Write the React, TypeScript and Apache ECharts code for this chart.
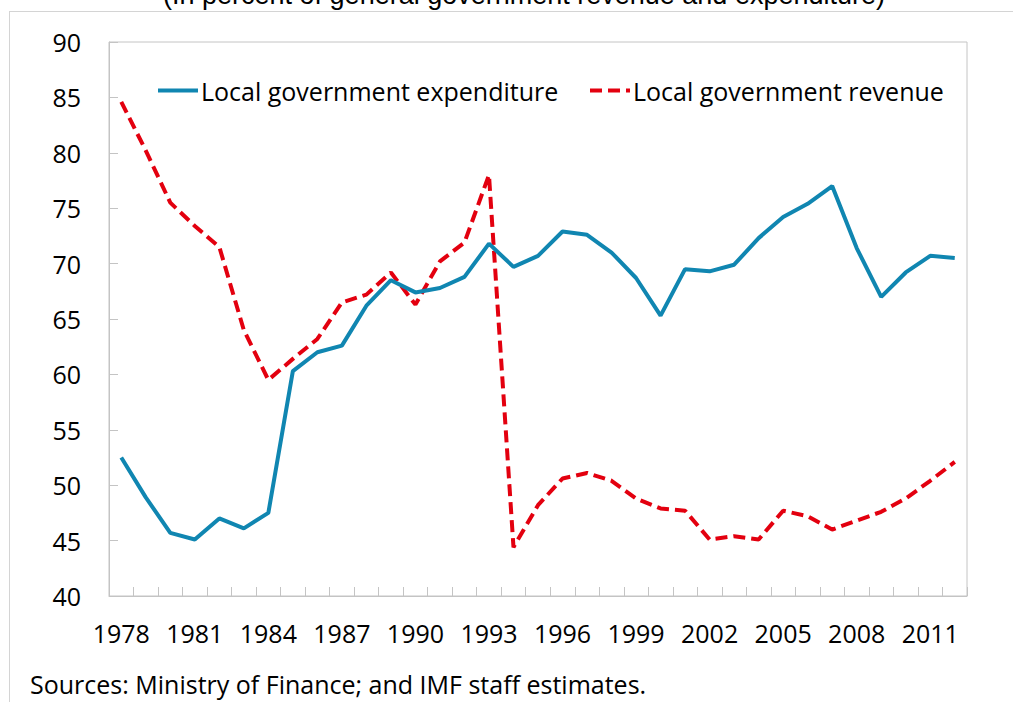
import React, { useEffect, useRef } from "react";
import * as echarts from "echarts";

const years = [
  "1978", "1979", "1980", "1981", "1982", "1983", "1984", "1985", "1986", "1987",
  "1988", "1989", "1990", "1991", "1992", "1993", "1994", "1995", "1996", "1997",
  "1998", "1999", "2000", "2001", "2002", "2003", "2004", "2005", "2006", "2007",
  "2008", "2009", "2010", "2011", "2012",
];

const expenditure = [
  52.5, 48.9, 45.7, 45.1, 47.0, 46.1, 47.5, 60.3, 62.0, 62.6,
  66.2, 68.5, 67.4, 67.8, 68.8, 71.8, 69.7, 70.7, 72.9, 72.6,
  71.0, 68.7, 65.3, 69.5, 69.3, 69.9, 72.3, 74.2, 75.4, 77.0,
  71.4, 67.0, 69.2, 70.7, 70.5,
];

const revenue = [
  84.6, 80.2, 75.5, 73.4, 71.5, 64.0, 59.5, 61.4, 63.2, 66.5,
  67.2, 69.2, 66.3, 70.2, 71.9, 78.0, 44.4, 48.2, 50.6, 51.1,
  50.4, 48.8, 47.9, 47.7, 45.1, 45.4, 45.1, 47.7, 47.2, 46.0,
  46.8, 47.6, 48.8, 50.4, 52.1,
];

const seriesNames = ["Local government expenditure", "Local government revenue"];
const titleText = "(In percent of general government revenue and expenditure)";
const sourceText = "Sources: Ministry of Finance; and IMF staff estimates.";

const FONT = "'Open Sans', 'Noto Sans', sans-serif";
const BLUE = "#1086b1";
const RED = "#e3000f";
const GRAY = "#c4c4c4";

export default function App() {
  const ref = useRef<HTMLDivElement>(null);

  useEffect(() => {
    if (!ref.current) return;
    const chart = echarts.init(ref.current, null, { renderer: "svg" });
    const legendBase = {
      top: 73,
      itemWidth: 40,
      itemHeight: 14,
      itemGap: 0,
      itemStyle: { opacity: 0 },
      textStyle: { fontFamily: FONT, fontSize: 25, color: "#000", padding: [0, 0, 0, -2] },
    };
    chart.setOption({
      animation: false,
      backgroundColor: "#ffffff",
      grid: {
        left: 109,
        top: 42,
        right: 46,
        bottom: 106,
        show: true,
        borderColor: GRAY,
        borderWidth: 1,
        backgroundColor: "transparent",
      },
      legend: [
        { ...legendBase, data: [seriesNames[0]], left: 151, lineStyle: { width: 4, color: BLUE } },
        {
          ...legendBase,
          data: [seriesNames[1]],
          left: 583,
          lineStyle: { width: 4, color: RED, type: [12, 6] },
        },
      ],
      xAxis: {
        type: "category",
        data: years,
        boundaryGap: true,
        axisLine: { show: true, lineStyle: { color: GRAY, width: 1 } },
        axisTick: { show: true, inside: true, length: 9, interval: 0, lineStyle: { color: GRAY } },
        axisLabel: {
          interval: 2,
          margin: 24,
          fontFamily: FONT,
          fontSize: 25,
          color: "#000",
        },
        splitLine: { show: false },
      },
      yAxis: {
        type: "value",
        min: 40,
        max: 90,
        interval: 5,
        axisLine: { show: true, lineStyle: { color: GRAY, width: 1 } },
        axisTick: { show: true, inside: true, length: 9, lineStyle: { color: GRAY } },
        axisLabel: {
          margin: 28,
          fontFamily: FONT,
          fontSize: 25,
          color: "#000",
        },
        splitLine: { show: false },
      },
      series: [
        {
          name: seriesNames[0],
          type: "line",
          data: expenditure,
          symbol: "none",
          lineStyle: { color: BLUE, width: 4 },
          itemStyle: { color: BLUE },
          z: 3,
        },
        {
          name: seriesNames[1],
          type: "line",
          data: revenue,
          symbol: "none",
          lineStyle: { color: RED, width: 4, type: [12, 6] },
          itemStyle: { color: RED },
          z: 2,
        },
      ],
      graphic: [
        {
          type: "line",
          shape: { x1: 9, y1: 11.5, x2: 1013, y2: 11.5 },
          style: { stroke: "#d4d4d4", lineWidth: 1 },
          silent: true,
        },
        {
          type: "line",
          shape: { x1: 9.5, y1: 11, x2: 9.5, y2: 702 },
          style: { stroke: "#d4d4d4", lineWidth: 1 },
          silent: true,
        },
        {
          type: "text",
          x: 524,
          y: 8,
          style: {
            text: titleText,
            fontFamily: "'Liberation Sans', Arial, sans-serif",
            fontSize: 27,
            fill: "#000",
            align: "center",
            verticalAlign: "bottom",
          },
          silent: true,
        },
        {
          type: "text",
          x: 30,
          y: 684,
          style: {
            text: sourceText,
            fontFamily: FONT,
            fontSize: 25,
            fill: "#000",
            align: "left",
            verticalAlign: "middle",
          },
          silent: true,
        },
      ],
    });
    return () => chart.dispose();
  }, []);

  return (
    <div
      ref={ref}
      style={{ position: "fixed", left: 0, top: 0, width: 1013, height: 702, background: "#fff" }}
    />
  );
}
